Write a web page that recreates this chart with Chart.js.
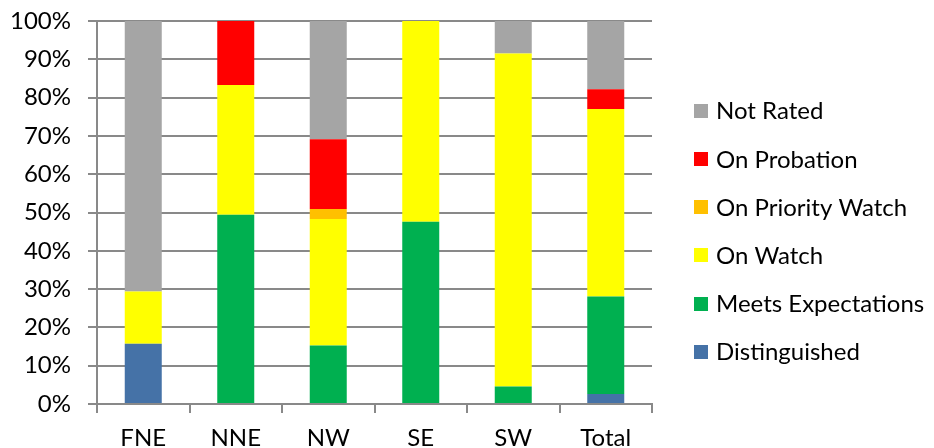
<!DOCTYPE html>
<html>
<head>
<meta charset="utf-8">
<script src="https://cdn.jsdelivr.net/npm/chart.js@4/dist/chart.umd.min.js"></script>
<style>
  html, body { margin: 0; padding: 0; background: #ffffff; }
  #wrap { width: 934px; height: 448px; position: relative; }
</style>
</head>
<body>
<div id="wrap"><canvas id="c" width="934" height="448"></canvas></div>
<script>
// Regions along the x axis
const regions = ['FNE', 'NNE', 'NW', 'SE', 'SW', 'Total'];

// Share of schools in each rating, percent (stacked bottom to top)
const distinguished     = [15.7, 0,    0,    0,    0,    2.6];
const meetsExpectations = [0,    49.4, 15.3, 47.6, 4.6,  25.5];
const onWatch           = [13.7, 33.9, 33.0, 52.4, 86.9, 48.9];
const onPriorityWatch   = [0,    0,    2.6,  0,    0,    0];
const onProbation       = [0,    16.7, 18.2, 0,    0,    5.2];
const notRated          = [70.6, 0,    30.9, 0,    8.5,  17.8];

// Value axis ticks
const yTicks = [0, 10, 20, 30, 40, 50, 60, 70, 80, 90, 100];

const FONT = 'Lato, "Open Sans", sans-serif';
const FONT_SIZE = 24;
const AXIS_GREY = '#898989';

const datasets = [
  { label: 'Distinguished',       data: distinguished,     backgroundColor: '#4572A7' },
  { label: 'Meets Expectations',  data: meetsExpectations, backgroundColor: '#00B050' },
  { label: 'On Watch',            data: onWatch,           backgroundColor: '#FFFF00' },
  { label: 'On Priority Watch',   data: onPriorityWatch,   backgroundColor: '#FFC000' },
  { label: 'On Probation',        data: onProbation,       backgroundColor: '#FF0000' },
  { label: 'Not Rated',           data: notRated,          backgroundColor: '#A5A5A5' }
];
datasets.forEach(d => { d.borderWidth = 0; d.categoryPercentage = 1; d.barPercentage = 0.4; });

// Legend drawn beside the plot, top entry = top of the stack
const sideLegend = {
  id: 'sideLegend',
  afterDraw(chart) {
    const ctx = chart.ctx;
    const items = chart.data.datasets.slice().reverse();
    const x0 = 694, boxSize = 14, textX = 716, firstY = 110.7, step = 48.2;
    ctx.save();
    ctx.font = FONT_SIZE + 'px ' + FONT;
    ctx.textBaseline = 'middle';
    ctx.textAlign = 'left';
    items.forEach((ds, i) => {
      const cy = firstY + i * step;
      ctx.fillStyle = ds.backgroundColor;
      ctx.fillRect(x0, Math.round(cy - boxSize / 2), boxSize, boxSize);
      ctx.fillStyle = '#000000';
      ctx.fillText(ds.label, textX, cy + 1);
    });
    ctx.restore();
  }
};

new Chart(document.getElementById('c'), {
  type: 'bar',
  data: { labels: regions, datasets },
  plugins: [sideLegend],
  options: {
    responsive: false,
    animation: false,
    layout: { padding: { top: 21, right: 282, left: 0, bottom: 0 } },
    plugins: {
      legend: { display: false },
      tooltip: { enabled: false }
    },
    scales: {
      x: {
        stacked: true,
        afterFit(scale) { scale.height = 44; scale.paddingLeft = 0; scale.paddingRight = 0; },
        grid: {
          offset: true,
          drawOnChartArea: false,
          drawTicks: true,
          tickLength: 9,
          color: AXIS_GREY,
          lineWidth: 2
        },
        border: { display: true, color: AXIS_GREY, width: 2 },
        ticks: {
          color: '#000000',
          padding: 11,
          font: { family: FONT, size: FONT_SIZE },
          maxRotation: 0
        }
      },
      y: {
        stacked: true,
        min: 0,
        max: 100,
        afterFit(scale) { scale.width = 97; scale.paddingTop = 0; scale.paddingBottom = 0; },
        afterBuildTicks(scale) { scale.ticks = yTicks.map(v => ({ value: v })); },
        grid: {
          drawTicks: true,
          tickLength: 9,
          color: AXIS_GREY,
          lineWidth: 2
        },
        border: { display: true, color: AXIS_GREY, width: 2 },
        ticks: {
          color: '#000000',
          padding: 17,
          font: { family: FONT, size: FONT_SIZE },
          callback: v => v + '%'
        }
      }
    }
  }
});
</script>
</body>
</html>
